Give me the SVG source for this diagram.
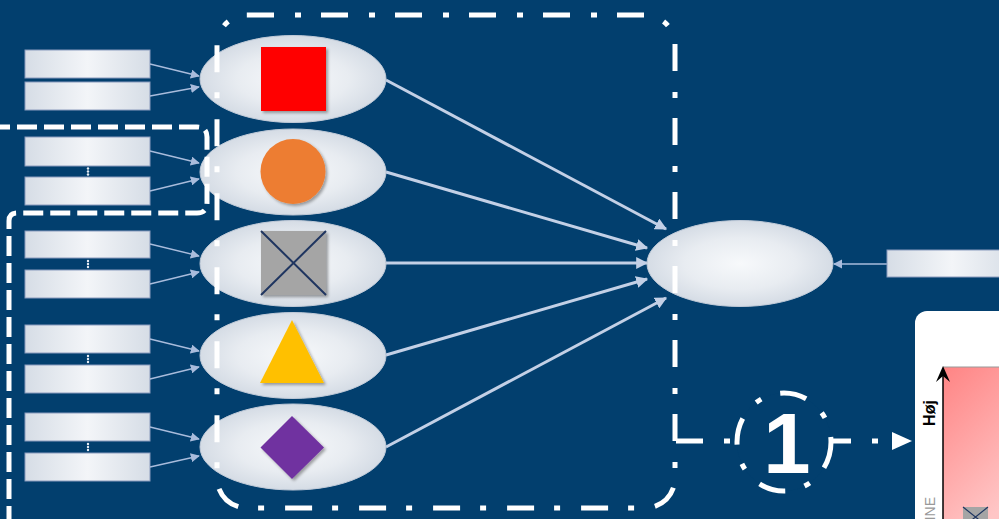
<svg xmlns="http://www.w3.org/2000/svg" width="999" height="519" viewBox="0 0 999 519">
<defs>
<radialGradient id="eg" cx="50%" cy="50%" r="50%">
<stop offset="0" stop-color="#f7f9fb"/>
<stop offset="0.6" stop-color="#e8ecf1"/>
<stop offset="1" stop-color="#d5dce5"/>
</radialGradient>
<linearGradient id="rg" x1="0" y1="0" x2="1" y2="0">
<stop offset="0" stop-color="#d6dde6"/>
<stop offset="0.5" stop-color="#f3f5f8"/>
<stop offset="1" stop-color="#d6dde6"/>
</linearGradient>
<linearGradient id="pink" x1="0" y1="0" x2="0.4" y2="1">
<stop offset="0" stop-color="#ff8484"/>
<stop offset="1" stop-color="#ffc6c6"/>
</linearGradient>
<filter id="sh" x="-20%" y="-20%" width="150%" height="150%">
<feDropShadow dx="2" dy="2" stdDeviation="1.5" flood-color="#000" flood-opacity="0.35"/>
</filter>
<marker id="ah" viewBox="0 0 10 10" refX="9" refY="5" markerWidth="4" markerHeight="4" orient="auto" markerUnits="strokeWidth">
<path d="M0,0 L10,5 L0,10 z" fill="#c3d0e6"/>
</marker>
<marker id="ahs" viewBox="0 0 10 10" refX="9" refY="5" markerWidth="7" markerHeight="7" orient="auto" markerUnits="strokeWidth">
<path d="M0,0 L10,5 L0,10 z" fill="#a9bcdc"/>
</marker>
</defs>
<style>
.bg{fill:#023f6e}
.in{fill:url(#rg);stroke:#8a9bbd;stroke-width:1}
.el{fill:url(#eg);stroke:#c0cad8;stroke-width:1}
.big{stroke:#c3d0e6;stroke-width:3;fill:none;marker-end:url(#ah)}
.sm{stroke:#a9bcdc;stroke-width:1.3;fill:none;marker-end:url(#ahs)}
.dd{fill:none;stroke:#fff;stroke-width:5;stroke-dasharray:27 21 6 20}
.ds{fill:none;stroke:#fff;stroke-width:5;stroke-dasharray:20 7}
.dot{fill:#e8edf4}
</style>
<rect class="bg" x="0" y="0" width="999" height="519"/>

<g id="inputs">
<rect class="in" x="25" y="50" width="125" height="28"/>
<rect class="in" x="25" y="82" width="125" height="28"/>
<rect class="in" x="25" y="137" width="125" height="29"/>
<rect class="in" x="25" y="177" width="125" height="28"/>
<rect class="in" x="25" y="231" width="125" height="27"/>
<rect class="in" x="25" y="270" width="125" height="28"/>
<rect class="in" x="25" y="325" width="125" height="28"/>
<rect class="in" x="25" y="365" width="125" height="28"/>
<rect class="in" x="25" y="413" width="125" height="28"/>
<rect class="in" x="25" y="453" width="125" height="28"/>
<g class="dot">
<circle cx="88" cy="168.5" r="1.2"/><circle cx="88" cy="171.5" r="1.2"/><circle cx="88" cy="174.5" r="1.2"/>
<circle cx="88" cy="261" r="1.2"/><circle cx="88" cy="264" r="1.2"/><circle cx="88" cy="267" r="1.2"/>
<circle cx="88" cy="356" r="1.2"/><circle cx="88" cy="359" r="1.2"/><circle cx="88" cy="362" r="1.2"/>
<circle cx="88" cy="444" r="1.2"/><circle cx="88" cy="447" r="1.2"/><circle cx="88" cy="450" r="1.2"/>
</g>
</g>

<g id="connectors">
<line class="sm" x1="150" y1="64" x2="199" y2="76"/>
<line class="sm" x1="150" y1="96" x2="199" y2="87"/>
<line class="sm" x1="150" y1="151" x2="199" y2="163"/>
<line class="sm" x1="150" y1="191" x2="199" y2="179"/>
<line class="sm" x1="150" y1="244" x2="199" y2="256"/>
<line class="sm" x1="150" y1="284" x2="199" y2="272"/>
<line class="sm" x1="150" y1="339" x2="199" y2="351"/>
<line class="sm" x1="150" y1="379" x2="199" y2="367"/>
<line class="sm" x1="150" y1="427" x2="199" y2="439"/>
<line class="sm" x1="150" y1="467" x2="199" y2="456"/>
<line class="big" x1="386" y1="80" x2="666" y2="229"/>
<line class="big" x1="386" y1="172" x2="647" y2="248"/>
<line class="big" x1="386" y1="263" x2="647" y2="263"/>
<line class="big" x1="386" y1="355" x2="647" y2="279"/>
<line class="big" x1="386" y1="447" x2="666" y2="298"/>
<line class="sm" x1="887" y1="264" x2="834" y2="264"/>
<line x1="676" y1="441" x2="894" y2="441" stroke="#fff" stroke-width="5" stroke-dasharray="27 21 6 20"/>
<path d="M892 432 L912 441 L892 450 z" fill="#fff"/>
</g>

<g id="n1"><ellipse class="el" cx="293" cy="79" rx="93" ry="43.5"/><rect x="261" y="47" width="65" height="64" fill="#ff0000" filter="url(#sh)"/></g>
<g id="n2"><ellipse class="el" cx="293" cy="172" rx="93" ry="43"/><circle cx="293" cy="171.5" r="32.5" fill="#ed7d31" filter="url(#sh)"/></g>
<g id="n3"><ellipse class="el" cx="293" cy="263.5" rx="93" ry="43"/>
<g filter="url(#sh)"><rect x="261" y="231" width="65" height="64" fill="#a5a5a5"/></g>
<path d="M261 231 L326 295 M326 231 L261 295" stroke="#1f3560" stroke-width="2"/></g>
<g id="n4"><ellipse class="el" cx="293" cy="355.5" rx="93" ry="43"/><path d="M292 320 L324 383 L260 383 z" fill="#ffc000" filter="url(#sh)"/></g>
<g id="n5"><ellipse class="el" cx="293" cy="447" rx="93" ry="43"/><path d="M292 416 L324 447.5 L292 479 L260.5 447.5 z" fill="#7030a0" filter="url(#sh)"/></g>

<g id="center"><ellipse class="el" cx="740" cy="263.5" rx="93" ry="43"/></g>
<g id="rightInput"><rect class="in" x="887" y="250" width="130" height="27"/></g>

<g id="boxes">
<rect class="dd" x="217" y="15" width="458" height="493" rx="30"/>
<path class="ds" d="M-10 127 H197 Q207 127 207 137 V203 Q207 213 197 213 H17 Q9 213 9 221 V530"/>
</g>

<g id="badge">
<ellipse cx="784" cy="442" rx="47" ry="49" fill="#023f6e" stroke="#fff" stroke-width="5" stroke-dasharray="27 21 6 20"/>
<text x="787" y="473" font-family="Liberation Sans, Arial, sans-serif" font-weight="bold" font-size="85" fill="#fff" text-anchor="middle">1</text>
</g>

<g id="panel">
<rect x="915" y="311" width="120" height="260" rx="12" fill="#ffffff"/>
<rect x="943" y="367" width="70" height="170" fill="url(#pink)"/>
<line x1="943" y1="367" x2="1000" y2="367" stroke="#999" stroke-width="1"/>
<line x1="943" y1="519" x2="943" y2="370" stroke="#000" stroke-width="1.5"/>
<path d="M943 366 L950 382 L943 376 L936 382 z" fill="#000"/>
<text transform="translate(935 413) rotate(-90)" font-family="Liberation Sans, Arial, sans-serif" font-weight="bold" font-size="16" fill="#000" text-anchor="middle">Høj</text>
<text transform="translate(935 497) rotate(-90)" font-family="Liberation Sans, Arial, sans-serif" font-size="14" fill="#999" text-anchor="end">INE</text>
<rect x="963" y="507" width="25" height="20" fill="#a5a5a5"/>
<path d="M963 507 L983 523 M988 507 L968 523" stroke="#1f3560" stroke-width="1.2"/>
</g>
</svg>
